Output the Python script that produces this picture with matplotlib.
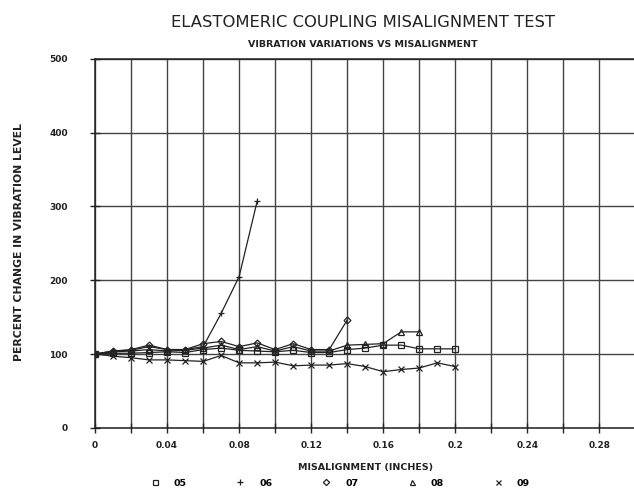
import matplotlib
matplotlib.use("Agg")
import matplotlib.pyplot as plt
from matplotlib.ticker import MultipleLocator

# misalignment (inches)
x = [0.00, 0.01, 0.02, 0.03, 0.04, 0.05, 0.06, 0.07, 0.08, 0.09, 0.10,
     0.11, 0.12, 0.13, 0.14, 0.15, 0.16, 0.17, 0.18, 0.19, 0.20]

# percent change in vibration level
s05 = [100, 101, 101, 102, 103, 102, 106, 108, 105, 104, 103,
       105, 102, 102, 106, 108, 112, 112, 107, 107, 107]
s06 = [100, 104, 105, 110, 106, 106, 110, 155, 205, 307]
s07 = [100, 104, 106, 112, 106, 106, 114, 117, 110, 115, 106,
       114, 106, 106, 146]
s08 = [100, 103, 104, 106, 104, 105, 108, 112, 106, 110, 104,
       110, 104, 104, 112, 113, 114, 130, 130]
s09 = [100, 97, 95, 92, 92, 91, 90, 98, 88, 88, 89,
       84, 85, 85, 87, 83, 76, 79, 81, 88, 83]

labels = ["05", "06", "07", "08", "09"]
xticks = [0, 0.04, 0.08, 0.12, 0.16, 0.2, 0.24, 0.28]
xticklabels = ["0", "0.04", "0.08", "0.12", "0.16", "0.2", "0.24", "0.28"]
yticks = [0, 100, 200, 300, 400, 500]

fig = plt.figure(figsize=(6.34, 4.94), dpi=100)
ax = fig.add_axes([0.15, 0.134, 0.852, 0.747])

col = "#222222"
ms = 4
ax.plot(x[:len(s05)], s05, color=col, lw=0.9, marker="s", ms=ms, mfc="none", mew=0.9, label=labels[0])
ax.plot(x[:len(s06)], s06, color=col, lw=0.9, marker="+", ms=ms + 1, mew=0.9, label=labels[1])
ax.plot(x[:len(s07)], s07, color=col, lw=0.9, marker="D", ms=ms - 0.5, mfc="none", mew=0.9, label=labels[2])
ax.plot(x[:len(s08)], s08, color=col, lw=0.9, marker="^", ms=ms, mfc="none", mew=0.9, label=labels[3])
ax.plot(x[:len(s09)], s09, color=col, lw=0.9, marker="x", ms=ms, mew=0.9, label=labels[4])

ax.set_xlim(0, 0.30)
ax.set_ylim(0, 500)
ax.set_xticks(xticks)
ax.set_xticklabels(xticklabels)
ax.xaxis.set_minor_locator(MultipleLocator(0.02))
ax.set_yticks(yticks)

ax.grid(True, which="both", axis="x", color="#444444", lw=1.0)
ax.grid(True, which="major", axis="y", color="#444444", lw=1.0)
ax.set_axisbelow(True)

ax.spines["right"].set_visible(False)
for side in ["left", "bottom", "top"]:
    ax.spines[side].set_color("#222222")
    ax.spines[side].set_linewidth(1.1)

ax.tick_params(axis="both", which="both", direction="inout", length=7, width=1,
               colors="#222222", labelsize=6.5)
ax.tick_params(axis="x", pad=6)
ax.tick_params(axis="y", pad=16)
for t in ax.get_xticklabels() + ax.get_yticklabels():
    t.set_fontweight("bold")

fig.text(0.572, 0.955, "ELASTOMERIC COUPLING MISALIGNMENT TEST", ha="center", va="center",
         fontsize=11.8, color="#222222")
fig.text(0.572, 0.909, "VIBRATION VARIATIONS VS MISALIGNMENT", ha="center", va="center",
         fontsize=6.8, fontweight="bold", color="#222222")
fig.text(0.577, 0.054, "MISALIGNMENT (INCHES)", ha="center", va="center",
         fontsize=6.8, fontweight="bold", color="#222222")
fig.text(0.03, 0.51, "PERCENT CHANGE IN VIBRATION LEVEL", ha="center", va="center",
         rotation=90, fontsize=7.8, fontweight="bold", color="#222222")

leg = fig.legend(loc="center", bbox_to_anchor=(0.54, 0.022), ncol=5, frameon=False,
                 fontsize=6.8, handlelength=0, handletextpad=2.0, columnspacing=5.7,
                 markerscale=0.9)
for t in leg.get_texts():
    t.set_fontweight("bold")
for h in leg.legend_handles:
    h.set_linestyle("none")

fig.savefig("out.png", dpi=100)
